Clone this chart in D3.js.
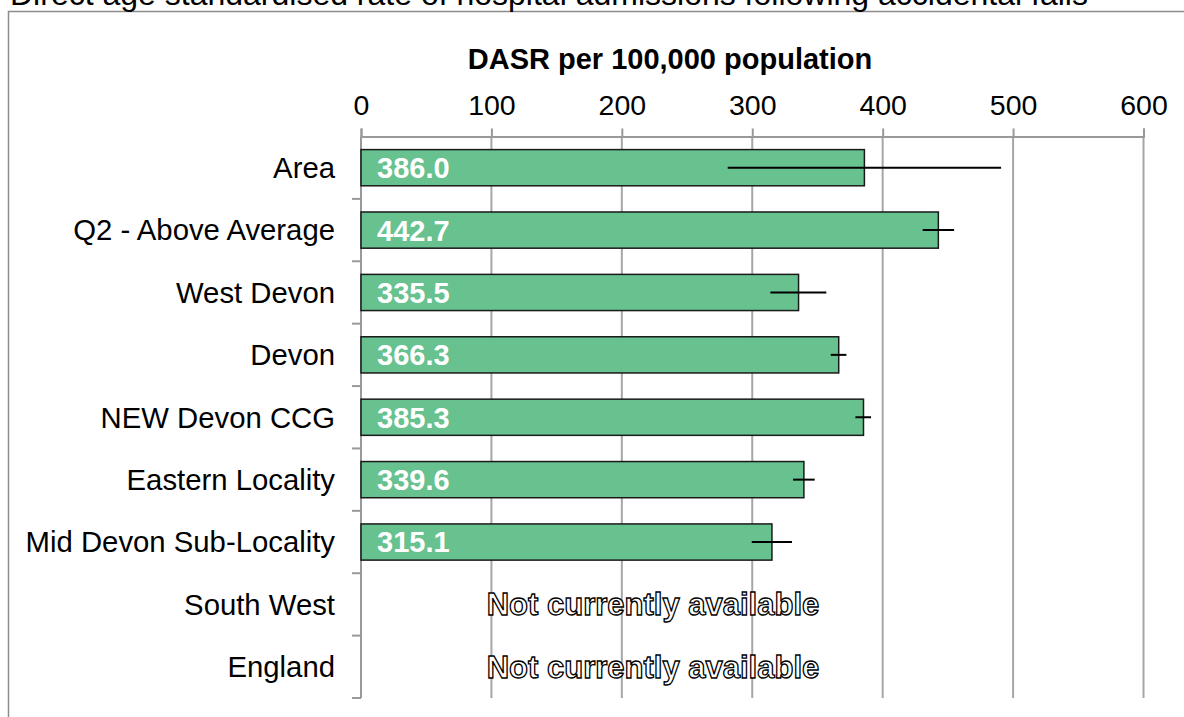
<!DOCTYPE html>
<html>
<head>
<meta charset="utf-8">
<script src="https://cdn.jsdelivr.net/npm/d3@7"></script>
<style>
  body { margin: 0; background: #fff; }
  svg { display: block; font-family: "Liberation Sans", Arial, sans-serif; }
</style>
</head>
<body>
<div id="chart"></div>
<script>
const categories = ['Area', 'Q2 - Above Average', 'West Devon', 'Devon', 'NEW Devon CCG',
    'Eastern Locality', 'Mid Devon Sub-Locality', 'South West', 'England']
const values = [386.0, 442.7, 335.5, 366.3, 385.3, 339.6, 315.1, null, null]
const lowerCI = [281.2, 430.7, 313.9, 360.2, 379.1, 331.3, 299.6, null, null]
const upperCI = [490.8, 454.8, 356.8, 372.2, 391.1, 347.9, 330.5, null, null]
const xTicks = [0, 100, 200, 300, 400, 500, 600]
const title = 'Direct age standardised rate of hospital admissions following accidental falls'
const axisTitle = 'DASR per 100,000 population'
const missingText = 'Not currently available'

const width = 1184
const height = 717

const rows = categories.map((c, i) => ({
    name: c, value: values[i], lo: lowerCI[i], hi: upperCI[i]
}))

const svg = d3.select('#chart').append('svg')
    .attr('width', width)
    .attr('height', height)

// chart frame (runs off the bottom/right)
svg.append('rect')
    .attr('x', 8.5).attr('y', 11.5)
    .attr('width', width + 20).attr('height', height + 20)
    .attr('fill', 'none')
    .attr('stroke', '#8c8c8c')
    .attr('stroke-width', 1.5)

// title, clipped at top like the source image
svg.append('text')
    .attr('x', 10).attr('y', 5)
    .style('font-size', '32px')
    .style('fill', '#000')
    .text(title)

const plotTop = 136.5, plotBottom = 698

const x = d3.scaleLinear().domain([0, 600]).range([361, 1143.5])
const y = d3.scaleBand().domain(categories).range([plotTop, plotBottom])
    .paddingInner(0.42).paddingOuter(0.21)

// gridlines
svg.append('g').selectAll('line')
    .data(xTicks.slice(1))
    .join('line')
    .attr('x1', d => x(d)).attr('x2', d => x(d))
    .attr('y1', plotTop).attr('y2', plotBottom)
    .attr('stroke', '#a6a6a6')
    .attr('stroke-width', 2)

// top axis
const xAxis = svg.append('g')
    .attr('transform', `translate(0,${plotTop})`)
    .call(d3.axisTop(x).tickValues(xTicks).tickSize(8).tickPadding(14).tickFormat(d3.format('d')))
xAxis.select('.domain').attr('stroke', '#999').attr('stroke-width', 2)
xAxis.selectAll('.tick line').attr('stroke', '#999').attr('stroke-width', 2)
xAxis.selectAll('text')
    .style('font-size', '28.5px')
    .style('font-family', '"Liberation Sans", Arial, sans-serif')
    .attr('fill', '#000')

svg.append('text')
    .attr('x', 670).attr('y', 69)
    .attr('text-anchor', 'middle')
    .style('font-size', '29px')
    .style('font-weight', 'bold')
    .text(axisTitle)

// left axis: ticks at band boundaries
const step = y.step()
const bounds = d3.range(categories.length + 1).map(i => plotTop + i * step)
svg.append('line')
    .attr('x1', x(0)).attr('x2', x(0))
    .attr('y1', plotTop).attr('y2', plotBottom)
    .attr('stroke', '#999').attr('stroke-width', 2)
svg.append('g').selectAll('line')
    .data(bounds.slice(1))
    .join('line')
    .attr('x1', x(0) - 9).attr('x2', x(0))
    .attr('y1', d => d).attr('y2', d => d)
    .attr('stroke', '#999').attr('stroke-width', 2)

svg.append('g').selectAll('text')
    .data(rows)
    .join('text')
    .attr('x', 335)
    .attr('y', d => y(d.name) + y.bandwidth() / 2)
    .attr('dy', '0.35em')
    .attr('text-anchor', 'end')
    .style('font-size', '29.3px')
    .text(d => d.name)

// bars
const known = rows.filter(d => d.value != null)
svg.append('g').selectAll('rect')
    .data(known)
    .join('rect')
    .attr('x', x(0))
    .attr('y', d => y(d.name))
    .attr('width', d => x(d.value) - x(0))
    .attr('height', y.bandwidth())
    .attr('fill', '#67c28f')
    .attr('stroke', '#1a1a1a')
    .attr('stroke-width', 1.5)

// confidence intervals
svg.append('g').selectAll('line')
    .data(known)
    .join('line')
    .attr('x1', d => x(d.lo)).attr('x2', d => x(d.hi))
    .attr('y1', d => y(d.name) + y.bandwidth() / 2)
    .attr('y2', d => y(d.name) + y.bandwidth() / 2)
    .attr('stroke', '#000')
    .attr('stroke-width', 2)

// value labels
svg.append('g').selectAll('text')
    .data(known)
    .join('text')
    .attr('x', x(0) + 16)
    .attr('y', d => y(d.name) + y.bandwidth() / 2)
    .attr('dy', '0.36em')
    .style('font-size', '29px')
    .style('font-weight', 'bold')
    .style('fill', '#fff')
    .text(d => d3.format('.1f')(d.value))

// missing rows
svg.append('g').selectAll('text')
    .data(rows.filter(d => d.value == null))
    .join('text')
    .attr('x', 653)
    .attr('y', d => y(d.name) + y.bandwidth() / 2)
    .attr('dy', '0.35em')
    .attr('text-anchor', 'middle')
    .style('font-size', '31px')
    .style('font-weight', 'bold')
    .style('fill', '#fff')
    .style('stroke', '#000')
    .style('stroke-width', 1.3)
    .text(missingText)
</script>
</body>
</html>
